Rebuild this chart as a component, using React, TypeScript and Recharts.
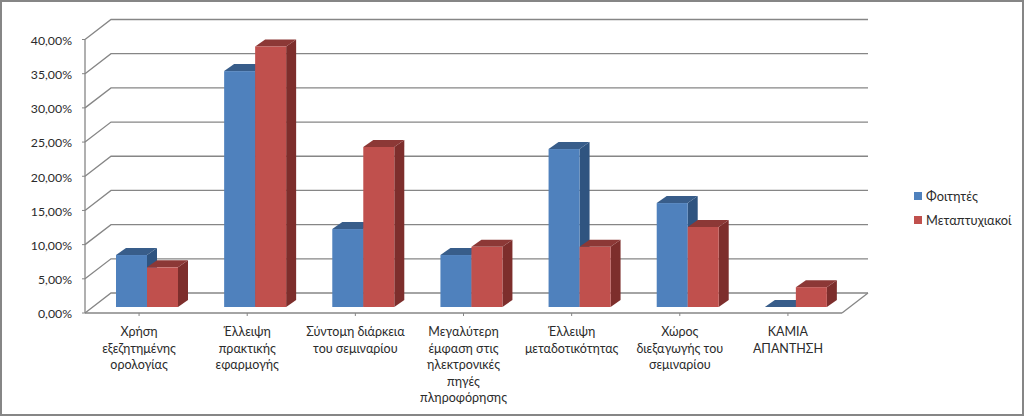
import React from "react";
import { BarChart, Bar, XAxis, YAxis, CartesianGrid, Legend } from "recharts";

const categories = [
  "Χρήση\nεξεζητημένης\nορολογίας",
  "Έλλειψη\nπρακτικής\nεφαρμογής",
  "Σύντομη διάρκεια\nτου σεμιναρίου",
  "Μεγαλύτερη\nέμφαση στις\nηλεκτρονικές\nπηγές\nπληροφόρησης",
  "Έλλειψη\nμεταδοτικότητας",
  "Χώρος\nδιεξαγωγής του\nσεμιναρίου",
  "ΚΑΜΙΑ\nΑΠΑΝΤΗΣΗ",
];
const students = [7.6, 34.5, 11.4, 7.6, 23.1, 15.2, 0];
const postgraduates = [5.8, 38.1, 23.4, 8.8, 8.8, 11.7, 2.9];
const yTicks = [0, 5, 10, 15, 20, 25, 30, 35, 40];

const data = categories.map((name, i) => ({
  name,
  students: students[i],
  postgraduates: postgraduates[i],
}));

const FONT = "Lato, 'Noto Sans', sans-serif";
const TEXT = "#2b2b2b";
const GRID = "#868686";

// 3d look: the wall sits up and to the right of the axis
const WALL_DX = 26;
const WALL_DY = -20;
// bars stand in the middle of the floor, with a small depth of their own
const BAR_DX = 8;
const BAR_DY = -6;
const DEPTH_X = 10;
const DEPTH_Y = -7;

const BLUE = { front: "#4f81bd", top: "#385d8a", side: "#2f5480" };
const RED = { front: "#c0504d", top: "#8c3836", side: "#7d2e2c" };

const box = (colors: typeof BLUE) => (props: any) => {
  const { x, y, width, height } = props;
  const l = x + BAR_DX;
  const r = l + width;
  const t = y + BAR_DY;
  const b = t + height;
  return (
    <g>
      <polygon
        points={`${r},${t} ${r + DEPTH_X},${t + DEPTH_Y} ${r + DEPTH_X},${b + DEPTH_Y} ${r},${b}`}
        fill={colors.side}
      />
      <polygon
        points={`${l},${t} ${l + DEPTH_X},${t + DEPTH_Y} ${r + DEPTH_X},${t + DEPTH_Y} ${r},${t}`}
        fill={colors.top}
      />
      <rect x={l} y={t} width={width} height={height} fill={colors.front} />
    </g>
  );
};

// floor line (value 0) also has the right hand edge of the floor
const gridLine = (props: any) => {
  const { x1, x2, y1, index } = props;
  const wallY = y1 + WALL_DY;
  const isFloor = Math.abs(y1 - 313) < 1;
  return (
    <g key={`grid-${index}`} fill="none" stroke={GRID} strokeWidth={1.3}>
      <polyline points={`${x1},${y1} ${x1 + WALL_DX},${wallY} ${x2 + WALL_DX},${wallY}`} />
      {isFloor && <line x1={x2} y1={y1} x2={x2 + WALL_DX} y2={wallY} />}
    </g>
  );
};

const CategoryTick = (props: any) => {
  const { x, y, payload } = props;
  const lines = String(payload.value).split("\n");
  return (
    <text x={x} y={y + 18} textAnchor="middle" fontSize={12.5} fill={TEXT} fontFamily={FONT}>
      {lines.map((line, i) => (
        <tspan key={i} x={x} dy={i === 0 ? 0 : 16.6}>
          {line}
        </tspan>
      ))}
    </text>
  );
};

const legendItems = (props: any) => (
  <div>
    {props.payload.map((item: any) => (
      <div
        key={item.value}
        style={{ display: "flex", alignItems: "center", height: 24, fontSize: 12.8, color: TEXT, fontFamily: FONT }}
      >
        <span style={{ width: 8, height: 8, marginRight: 4, background: item.color }} />
        {item.value}
      </div>
    ))}
  </div>
);

export default function App() {
  return (
    <div
      style={{
        position: "absolute",
        left: 0,
        top: 0,
        width: 1024,
        height: 416,
        background: "#ffffff",
        boxShadow: `inset 0 0 0 2px ${GRID}`,
      }}
    >
      <BarChart
        width={1024}
        height={416}
        data={data}
        barGap={0}
        barCategoryGap={23}
        margin={{ top: 39.5, right: 77, bottom: 0, left: 0 }}
      >
        <CartesianGrid vertical={false} horizontal={gridLine} />
        <XAxis
          dataKey="name"
          interval={0}
          height={103}
          tick={<CategoryTick />}
          tickSize={3}
          tickLine={{ stroke: GRID }}
          axisLine={{ stroke: GRID, strokeWidth: 1.3 }}
        />
        <YAxis
          width={85}
          domain={[0, 40]}
          ticks={yTicks}
          interval={0}
          tickFormatter={(v: number) => `${v.toFixed(2).replace(".", ",")}%`}
          tick={{ fontSize: 12.3, fill: TEXT, fontFamily: FONT, dy: 1 }}
          tickSize={3}
          tickMargin={10}
          tickLine={{ stroke: GRID }}
          axisLine={{ stroke: GRID, strokeWidth: 1.3 }}
        />
        <Legend
          content={legendItems}
          layout="horizontal"
          verticalAlign="middle"
          align="right"
          itemSorter={null}
          wrapperStyle={{ left: 914, top: 184, width: 105, bottom: "auto", right: "auto" }}
        />
        <Bar name="Φοιτητές" dataKey="students" fill={BLUE.front} shape={box(BLUE)} isAnimationActive={false} />
        <Bar name="Μεταπτυχιακοί" dataKey="postgraduates" fill={RED.front} shape={box(RED)} isAnimationActive={false} />
      </BarChart>
    </div>
  );
}
